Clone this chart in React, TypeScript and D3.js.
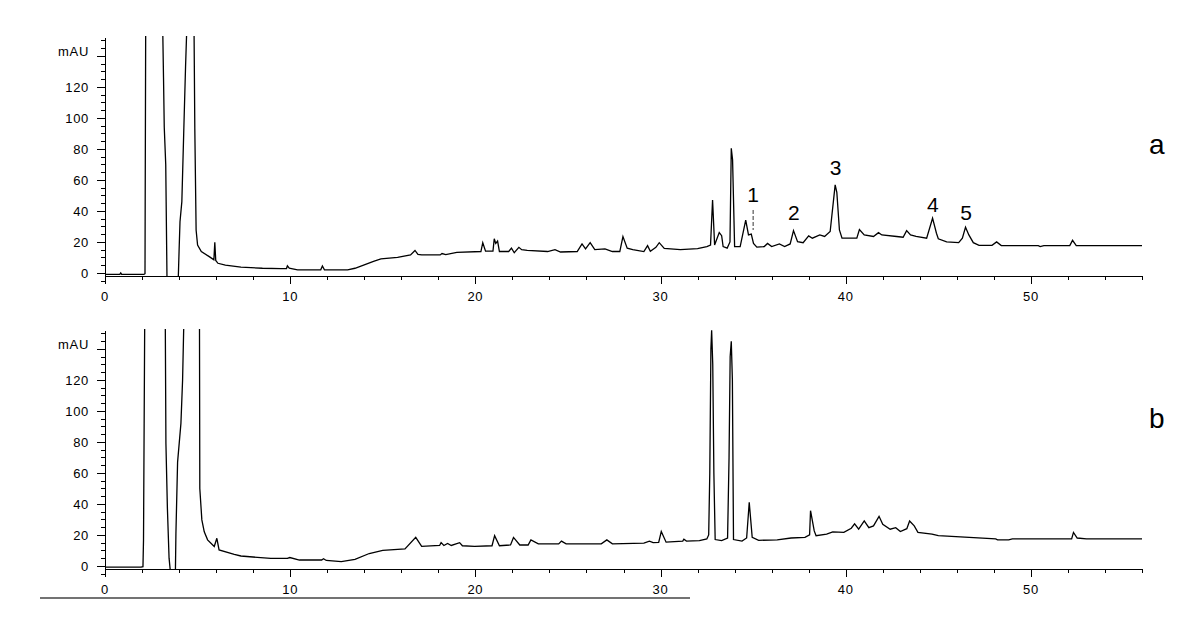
import React from "react";
import * as d3 from "d3";

// ---------- data ----------
// Trace a: retention time (min) and absorbance (mAU)
const A_TIME = [0, 0.8, 0.85, 0.9, 2.1, 2.16, 2.17, 2.2, 3.1, 3.16, 3.2, 3.28, 3.35, 3.95, 4.0, 4.05, 4.15, 4.25, 4.35, 4.45, 4.8, 4.85, 4.92, 5.0, 5.2, 5.63, 5.88, 5.93, 5.98, 6.1, 6.5, 7.34, 8.5, 9.5, 9.8, 9.85, 9.95, 10.4, 11.65, 11.74, 11.85, 13.1, 13.5, 14.0, 14.5, 14.9, 15.8, 16.5, 16.74, 16.9, 17.1, 18.1, 18.2, 18.4, 19.0, 20.3, 20.4, 20.55, 20.95, 21.02, 21.1, 21.2, 21.3, 21.8, 21.95, 22.1, 22.35, 22.5, 22.8, 23.9, 24.3, 24.6, 25.5, 25.76, 25.95, 26.2, 26.45, 27.0, 27.4, 27.8, 27.97, 28.2, 28.5, 29.1, 29.3, 29.45, 29.75, 29.93, 30.2, 31.07, 32.0, 32.5, 32.7, 32.81, 32.92, 33.17, 33.3, 33.38, 33.6, 33.75, 33.82, 33.89, 34.0, 34.3, 34.6, 34.75, 34.9, 35.02, 35.2, 35.6, 35.78, 36.0, 36.42, 36.7, 37.0, 37.18, 37.4, 37.7, 38.0, 38.2, 38.6, 38.86, 39.16, 39.43, 39.52, 39.66, 39.8, 40.6, 40.74, 41.0, 41.5, 41.77, 41.95, 42.75, 43.1, 43.29, 43.5, 43.8, 44.37, 44.69, 44.9, 45.0, 45.45, 46.1, 46.3, 46.47, 46.65, 46.89, 47.2, 47.9, 48.15, 48.4, 50.4, 50.5, 50.7, 52.1, 52.25, 52.45, 56];
const A_MAU = [-1, -1, 0, -1, -1, -0.5, 44, 170, 170, 126, 94, 70, -6, -6, 14, 33, 46, 90, 133, 170, 170, 93, 27.7, 18, 13.8, 10.5, 8.4, 19.8, 8, 6.2, 5, 3.7, 3, 2.8, 2.8, 4.5, 3, 2, 2, 4.5, 2, 2, 3, 5.2, 7.5, 9, 10, 11.6, 14.5, 12, 11.6, 11.6, 12.5, 11.8, 13.2, 13.8, 19.5, 14, 14, 22, 19, 20.5, 13.8, 13.8, 16, 13, 16.5, 15, 14.5, 13.8, 15, 13.5, 13.8, 18.7, 15.5, 19.5, 15, 15.5, 13.8, 13.8, 23.4, 16, 15, 13.8, 17.6, 14, 16.5, 19.5, 15.8, 15, 15.6, 17, 18, 47, 18, 26, 24, 17, 16, 20, 80.4, 73, 17, 17, 34, 24.5, 25, 19, 16.6, 17, 19, 17, 18.7, 17, 18.7, 27.3, 20.2, 19.5, 23.9, 22.4, 24.5, 23.5, 26.7, 56.8, 52, 27.7, 22.4, 22.4, 28, 24.5, 23.5, 26, 24.5, 23.5, 23, 27.3, 24.5, 23.5, 22.4, 35.3, 25.6, 22, 20, 19.5, 22.4, 29.5, 24.5, 19.5, 17.8, 17.8, 20, 17.6, 17.6, 17, 17.6, 17.6, 21, 17.6, 17.6];

// Trace b
const B_TIME = [0, 1.95, 2.05, 2.08, 2.15, 3.25, 3.29, 3.37, 3.46, 3.55, 3.8, 3.83, 3.92, 4.1, 4.19, 4.28, 5.1, 5.12, 5.23, 5.36, 5.54, 5.9, 6.04, 6.16, 6.98, 7.34, 8.95, 9.85, 9.98, 10.5, 11.7, 11.8, 11.95, 12.76, 13.5, 14.27, 15.0, 16.2, 16.78, 17.1, 18.07, 18.15, 18.3, 18.5, 18.7, 19.15, 19.3, 19.96, 20.9, 21.04, 21.3, 21.9, 22.06, 22.4, 22.85, 23.0, 23.4, 24.5, 24.65, 24.9, 26.8, 27.1, 27.4, 29.1, 29.4, 29.6, 29.9, 30.04, 30.3, 31.2, 31.26, 31.4, 32.1, 32.5, 32.6, 32.66, 32.72, 32.76, 32.82, 32.88, 32.95, 33.3, 33.62, 33.7, 33.76, 33.82, 33.88, 33.94, 34.4, 34.65, 34.79, 34.95, 35.3, 36.3, 37.05, 37.8, 38.05, 38.1, 38.3, 38.4, 38.97, 39.3, 39.9, 40.3, 40.48, 40.7, 41.0, 41.25, 41.5, 41.8, 42.0, 42.4, 42.7, 42.95, 43.3, 43.45, 43.7, 43.9, 44.66, 45.0, 48.1, 48.2, 48.8, 49.0, 52.2, 52.3, 52.5, 53.0, 56];
const B_MAU = [-0.8, -0.8, -0.5, 16.8, 170, 170, 79, 37, 5, -6, -6, 21, 67, 92, 120, 170, 170, 50, 29.7, 22, 16.8, 12.5, 17.8, 10.3, 7.5, 6.4, 4.8, 4.8, 5.4, 3.8, 3.8, 4.6, 3.5, 2.7, 4.2, 8, 10, 11, 18.4, 12.6, 13.2, 15, 13.2, 14.5, 13.2, 15, 13, 12.6, 13, 19.5, 13, 13.5, 18.4, 13.5, 13.5, 16.8, 14.2, 14.2, 16, 14.2, 14.2, 16.8, 14.2, 14.7, 16, 15, 15.2, 22.2, 15.3, 16, 17.2, 16, 16.3, 17.4, 20, 60, 140, 152, 130, 60, 17, 16.3, 18, 70, 135, 145, 120, 17, 16, 18, 41, 18.4, 16.5, 16.8, 18, 18.4, 20, 35.6, 22.6, 19.5, 20.5, 22, 21.6, 24.3, 27.2, 23.7, 29, 24.7, 25.8, 32, 26.8, 23.7, 24.7, 22.2, 24, 29, 25.8, 21.6, 20.5, 19.5, 17.4, 16.8, 16.8, 17.4, 17.4, 21.6, 18, 17.4, 17.4];

// Peak annotations on trace a
const PEAK_LABELS = ["1", "2", "3", "4", "5"];
const PEAK_TIMES = [35.0, 37.2, 39.45, 44.7, 46.5];
const PEAK_LABEL_MAU = [45.8, 34.2, 63.2, 39.4, 34.2];
const MARKER_TIME = 35.0;
const MARKER_RANGE = [27.7, 40.6];

const PANEL_NAMES = ["a", "b"];
const X_MAJOR = [0, 10, 20, 30, 40, 50];
const Y_MAJOR = [0, 20, 40, 60, 80, 100, 120, 140];
const Y_UNIT = "mAU";

// ---------- layout ----------
const W = 1200;
const H = 638;
const X0 = 105;
const X1 = 1142;
const PANEL_TOPS = [38, 331];
const PANEL_H = 238;
const FONT = "'Liberation Sans', Arial, sans-serif";

const x = d3.scaleLinear().domain([0, 56]).range([X0, X1]);

function Panel({ idx, times, values }: { idx: number; times: number[]; values: number[] }) {
  const top = PANEL_TOPS[idx];
  const bottom = top + PANEL_H;
  const y = d3.scaleLinear().domain([-2, 151.6]).range([bottom, top]);
  const pts: [number, number][] = times.map((t, i) => [t, values[i]]);
  const line = d3
    .line<[number, number]>()
    .x((d) => x(d[0]))
    .y((d) => y(d[1]));
  const clipId = `clip-${idx}`;
  const xMinor = d3.range(0, 57, 2).filter((v) => v % 10 !== 0);
  const yMinor = d3.range(-5, 151, 5).filter((v) => v % 20 !== 0 || v < 0);
  return (
    <g>
      <defs>
        <clipPath id={clipId}>
          <rect x={X0} y={top - 2} width={X1 - X0 + 2} height={bottom - top + 2} />
        </clipPath>
      </defs>
      <line x1={X0 + 0.5} x2={X0 + 0.5} y1={top} y2={y(-5)} stroke="#000" strokeWidth={1} />
      {Y_MAJOR.map((v) => (
        <g key={`ym${v}`}>
          <line x1={X0 - 8} x2={X0} y1={Math.round(y(v)) + 0.5} y2={Math.round(y(v)) + 0.5} stroke="#000" />
          <text
            x={89}
            y={y(v) + (v === 140 ? -5 : 0)}
            dy="0.36em"
            textAnchor="end"
            fontFamily={FONT}
            fontSize={13}
            letterSpacing={0.7}
            fill="#000"
          >
            {v === 140 ? Y_UNIT : String(v)}
          </text>
        </g>
      ))}
      {yMinor.map((v) => (
        <line key={`yn${v}`} x1={X0 - 4} x2={X0} y1={Math.round(y(v)) + 0.5} y2={Math.round(y(v)) + 0.5} stroke="#000" />
      ))}
      <line x1={X0} x2={X1} y1={bottom + 0.5} y2={bottom + 0.5} stroke="#000" strokeWidth={1} />
      {X_MAJOR.map((v) => (
        <g key={`xm${v}`}>
          <line x1={Math.round(x(v)) + 0.5} x2={Math.round(x(v)) + 0.5} y1={bottom} y2={bottom + 8} stroke="#000" />
          <text
            x={x(v)}
            y={bottom + 25}
            textAnchor="middle"
            fontFamily={FONT}
            fontSize={13}
            letterSpacing={0.7}
            fill="#000"
          >
            {v}
          </text>
        </g>
      ))}
      {xMinor.map((v) => (
        <line key={`xn${v}`} x1={Math.round(x(v)) + 0.5} x2={Math.round(x(v)) + 0.5} y1={bottom} y2={bottom + 4} stroke="#000" />
      ))}
      <path d={line(pts) || ""} fill="none" stroke="#000" strokeWidth={1.3} clipPath={`url(#${clipId})`} />
      <text x={1149} y={y(idx === 0 ? 77 : 89)} fontFamily={FONT} fontSize={28} fill="#000">
        {PANEL_NAMES[idx]}
      </text>
      {idx === 0 &&
        PEAK_LABELS.map((lab, i) => (
          <text
            key={lab}
            x={x(PEAK_TIMES[i])}
            y={y(PEAK_LABEL_MAU[i])}
            textAnchor="middle"
            fontFamily={FONT}
            fontSize={21}
            fill="#000"
          >
            {lab}
          </text>
        ))}
      {idx === 0 && (
        <line
          x1={x(MARKER_TIME)}
          x2={x(MARKER_TIME)}
          y1={y(MARKER_RANGE[1])}
          y2={y(MARKER_RANGE[0])}
          stroke="#333"
          strokeWidth={1}
          strokeDasharray="4,2"
        />
      )}
    </g>
  );
}

export default function App() {
  return (
    <svg
      width={W}
      height={H}
      viewBox={`0 0 ${W} ${H}`}
      style={{ position: "absolute", left: 0, top: 0, background: "#fff" }}
    >
      <rect x={0} y={0} width={W} height={H} fill="#fff" />
      <Panel idx={0} times={A_TIME} values={A_MAU} />
      <Panel idx={1} times={B_TIME} values={B_MAU} />
      <line x1={40} x2={690} y1={598} y2={598} stroke="#444" strokeWidth={1.5} />
    </svg>
  );
}
